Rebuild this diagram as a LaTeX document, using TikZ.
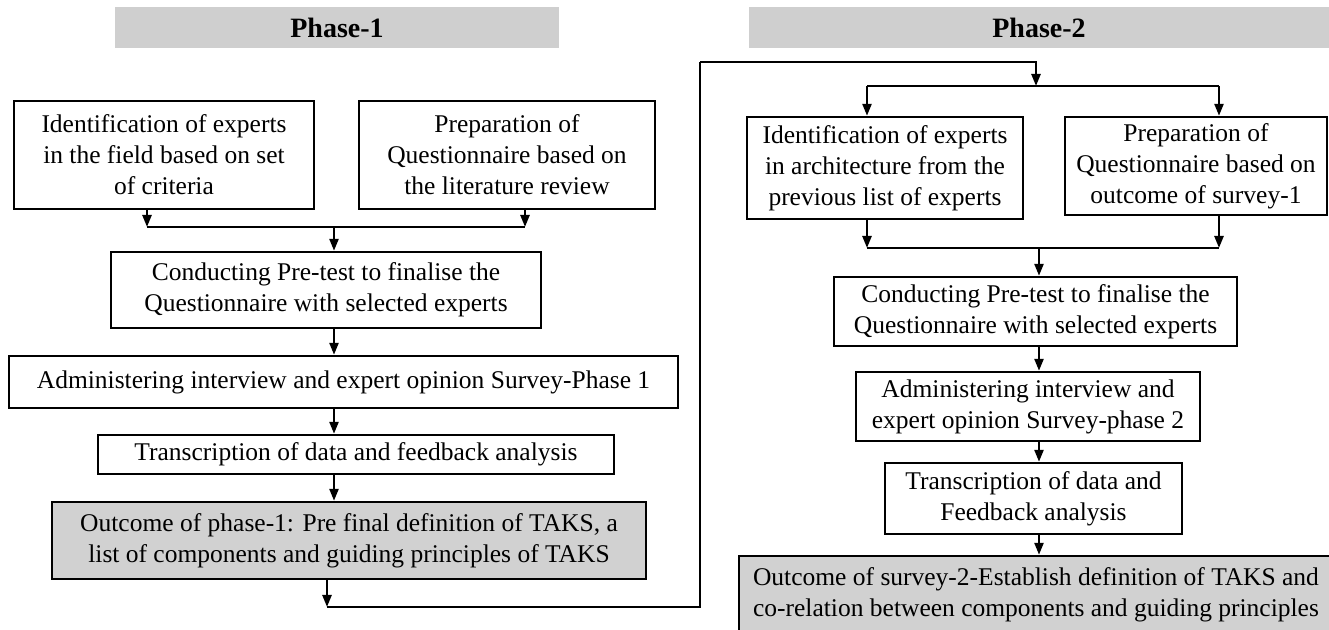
\documentclass[tikz,border=0pt]{standalone}
\usepackage{fontspec}
\setmainfont{Liberation Serif}
\usetikzlibrary{arrows.meta}

\begin{document}
\begin{tikzpicture}[x=0.5pt,y=-0.5pt,
		box/.style={draw,line width=1.2pt,align=center,inner sep=0pt,font=\fontsize{12.75}{15.5}\selectfont},
		outbox/.style={box,fill=black!18},
		phasebar/.style={fill=black!19,inner sep=0pt,minimum height=20.5pt,font=\fontsize{14}{16}\selectfont\bfseries},
		link/.style={line width=1.2pt},
		arr/.style={link,-{Triangle[length=6pt,width=4.5pt]}}]
		    	\clip (0,0) rectangle (1329,630);
		    	% phase 1
		    	\node[phasebar,minimum width=222pt] (PA) at (337,27.5) {Phase-1};
		    	\node[box,minimum width=150pt,minimum height=54pt] (QA) at (164,155) {Identification of experts\\in the field based on set\\of criteria};
		    	\node[box,minimum width=148pt,minimum height=54pt] (QB) at (507,155) {Preparation of\\Questionnaire based on\\the literature review};
		    	\node[box,minimum width=215pt,minimum height=38pt] (QC) at (326,290) {Conducting Pre-test to finalise the\\Questionnaire with selected experts};
		    	\node[box,minimum width=334.5pt,minimum height=26pt] (QD) at (343.5,382) {Administering interview and expert opinion Survey-Phase 1};
		    	\node[box,minimum width=258pt,minimum height=19.5pt] (QE) at (356,454.5) {Transcription of data and feedback analysis};
		    	\node[outbox,minimum width=297pt,minimum height=38.5pt] (QF) at (349,540.5) {Outcome of phase-1: Pre final definition of TAKS, a\\list of components and guiding principles of TAKS};
		    	
		    	% phase 2
		    	\node[phasebar,minimum width=290pt] (PB) at (1039,27.5) {Phase-2};
		    	\node[box,minimum width=138pt,minimum height=51pt] (RA) at (885,168) {Identification of experts\\in architecture from the\\previous list of experts};
		    	\node[box,minimum width=131pt,minimum height=49pt] (RB) at (1196,166) {Preparation of\\Questionnaire based on\\outcome of survey-1};
		    	\node[box,minimum width=201.5pt,minimum height=34.5pt] (RC) at (1035.5,311.5) {Conducting Pre-test to finalise the\\Questionnaire with selected experts};
		    	\node[box,minimum width=172pt,minimum height=34.5pt] (RD) at (1028,406.5) {Administering interview and\\expert opinion Survey-phase 2};
		    	\node[box,minimum width=148.5pt,minimum height=35.5pt] (RE) at (1033.5,498.5) {Transcription of data and\\Feedback analysis};
		    	\node[outbox,minimum width=297pt,minimum height=39pt] (RF) at (1036,595) {Outcome of survey-2-Establish definition of TAKS and\\co-relation between components and guiding principles};
		    	
		    	\coordinate (JA) at (147,227);
		    	\coordinate (JB) at (525,227);
		    	\coordinate (XA) at (334,0);
		    	\coordinate (LA) at (327,607);
		    	\coordinate (LB) at (700,62);
		    	\coordinate (SB) at (1036,86);
		    	\coordinate (KA) at (867,86);
		    	\coordinate (KB) at (1219,86);
		    	\coordinate (MA) at (867,248);
		    	\coordinate (MB) at (1219,248);
		    	\coordinate (XB) at (1039,0);
		    	
		    	\draw[arr] (QA.south -| JA)--(JA);
		    	\draw[arr] (QB.south -| JB)--(JB);
		    	\draw[link] (JA)--(JB);
		    	\draw[arr] (JA -| XA)--(QC.north -| XA);
		    	\draw[arr] (QC.south -| XA)--(QD.north -| XA);
		    	\draw[arr] (QD.south -| XA)--(QE.north -| XA);
		    	\draw[arr] (QE.south -| XA)--(QF.north -| XA);
		    	\draw[arr] (QF.south -| LA)--(LA);
		    	\draw[link] (LA) -| (LB);
		    	\draw[arr] (LB) -| (SB);
		    	\draw[link] (KA)--(KB);
		    	\draw[arr] (KA)--(RA.north -| KA);
		    	\draw[arr] (KB)--(RB.north -| KB);
		    	\draw[arr] (RA.south -| MA)--(MA);
		    	\draw[arr] (RB.south -| MB)--(MB);
		    	\draw[link] (MA)--(MB);
		    	\draw[arr] (MA -| XB)--(RC.north -| XB);
		    	\draw[arr] (RC.south -| XB)--(RD.north -| XB);
		    	\draw[arr] (RD.south -| XB)--(RE.north -| XB);
		    	\draw[arr] (RE.south -| XB)--(RF.north -| XB);
		    \end{tikzpicture}
\end{document}
